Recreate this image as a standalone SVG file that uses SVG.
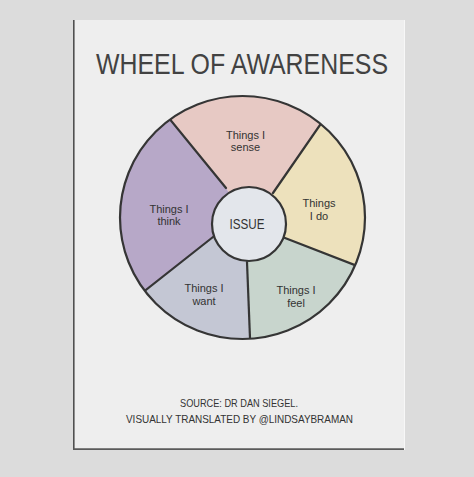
<svg xmlns="http://www.w3.org/2000/svg" width="474" height="477" viewBox="0 0 474 477">
  <style>
    .lbl { font-family: "Liberation Sans", "DejaVu Sans", sans-serif; font-size: 11px; fill: #333333; text-anchor: middle; }
    .foot { font-family: "Liberation Sans", "DejaVu Sans", sans-serif; font-size: 10.5px; fill: #333; text-anchor: middle; }
    .div { stroke: #353535; stroke-width: 2.2; stroke-linecap: round; fill: none; }
  </style>
  <defs>
    <clipPath id="wheelClip">
      <ellipse cx="242.5" cy="217.5" rx="122.5" ry="121.5"/>
    </clipPath>
  </defs>
  <rect x="0" y="0" width="474" height="477" fill="#dcdcdc"/>
  <g id="poster">
    <rect x="73" y="20" width="332" height="430" fill="#eeeeee"/>
    <line x1="73.8" y1="20" x2="73.8" y2="450" stroke="#505050" stroke-width="1.6"/>
    <line x1="73" y1="449.2" x2="405" y2="449.2" stroke="#5a5a5a" stroke-width="1.8"/>
    <line x1="404.5" y1="20" x2="404.5" y2="450" stroke="#f7f7f7" stroke-width="1"/>
  </g>
  <g id="title">
    <text x="242" y="74" font-family="'Liberation Sans', 'DejaVu Sans', sans-serif" font-size="29" fill="#424242" text-anchor="middle" textLength="292" lengthAdjust="spacingAndGlyphs">WHEEL OF AWARENESS</text>
  </g>
  <g clip-path="url(#wheelClip)">
    <g id="sense"><polygon points="249,224 226,188 146,90 146,40 340,40 340,96 273,193" fill="#e7c9c4"/></g>
    <g id="do"><polygon points="249,224 273,193 340,96 340,40 420,40 420,282.5 400,282.5 285,238" fill="#ede1bc"/></g>
    <g id="feel"><polygon points="249,224 285,238 400,282.5 420,282.5 420,400 251.5,400 251.5,376 247,262" fill="#c8d5cd"/></g>
    <g id="want"><polygon points="249,224 247,262 251.5,376 251.5,400 60,400 60,321.4 106,321.4 213,237" fill="#c4c7d4"/></g>
    <g id="think"><polygon points="249,224 213,237 106,321.4 60,321.4 60,40 146,40 146,90 226,188" fill="#b7a8c8"/></g>
    <g id="connectors">
      <line class="div" x1="226" y1="188" x2="146" y2="90"/>
      <line class="div" x1="273" y1="193" x2="340" y2="96"/>
      <line class="div" x1="285" y1="238" x2="400" y2="282.5"/>
      <line class="div" x1="247" y1="262" x2="251.5" y2="376"/>
      <line class="div" x1="213" y1="237" x2="106" y2="321.4"/>
    </g>
  </g>
  <ellipse class="div" cx="242.5" cy="217.5" rx="122.5" ry="121.5"/>
  <g id="issue">
    <circle cx="249" cy="224" r="37" fill="#e3e6eb" stroke="#353535" stroke-width="2.2"/>
    <text x="247" y="229" font-family="'Liberation Sans', 'DejaVu Sans', sans-serif" font-size="14" fill="#333" text-anchor="middle" textLength="35" lengthAdjust="spacingAndGlyphs">ISSUE</text>
  </g>
  <g id="sense-label">
    <text class="lbl"><tspan x="245.5" y="138.5">Things I</tspan><tspan x="245.5" y="151.3">sense</tspan></text>
  </g>
  <g id="do-label">
    <text class="lbl"><tspan x="319" y="207">Things</tspan><tspan x="319" y="219.8">I do</tspan></text>
  </g>
  <g id="think-label">
    <text class="lbl"><tspan x="169" y="212.5">Things I</tspan><tspan x="169" y="225.3">think</tspan></text>
  </g>
  <g id="want-label">
    <text class="lbl"><tspan x="204" y="292">Things I</tspan><tspan x="204" y="304.8">want</tspan></text>
  </g>
  <g id="feel-label">
    <text class="lbl"><tspan x="296" y="294">Things I</tspan><tspan x="296" y="306.8">feel</tspan></text>
  </g>
  <g id="footer">
    <text class="foot" x="239" y="407" textLength="118" lengthAdjust="spacingAndGlyphs">SOURCE: DR DAN SIEGEL.</text>
    <text class="foot" x="239.5" y="423" textLength="227" lengthAdjust="spacingAndGlyphs">VISUALLY TRANSLATED BY @LINDSAYBRAMAN</text>
  </g>
</svg>
